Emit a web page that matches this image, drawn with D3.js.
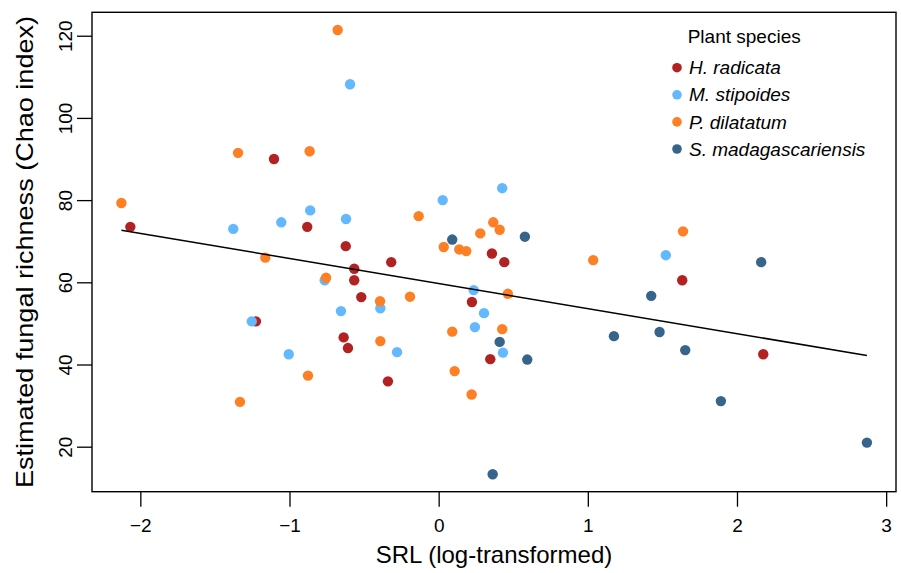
<!DOCTYPE html>
<html>
<head>
<meta charset="utf-8">
<script src="https://cdn.jsdelivr.net/npm/d3@7"></script>
<style>
  body { margin: 0; background: #fff; }
  svg text { font-family: "Liberation Sans", Arial, sans-serif; fill: #000; }
</style>
</head>
<body>
<div id="chart"></div>
<script>
// --------------------
// DATA
// --------------------
const species = ["H. radicata", "M. stipoides", "P. dilatatum", "S. madagascariensis"];
const speciesColors = ["#B22222", "#63B8FF", "#FF7F24", "#36648B"];

const radicataSRL  = [-2.067, -1.104, -0.881, -0.623, -0.566, -0.566, -0.519, -1.225, -0.637, -0.608, -0.318, -0.34, 0.357, 0.44, 0.223, 0.346, 1.633, 2.176];
const radicataChao = [73.5, 90.0, 73.5, 68.8, 63.3, 60.5, 56.4, 50.5, 46.6, 44.0, 64.9, 35.9, 67.0, 64.9, 55.2, 41.3, 60.5, 42.5];

const stipoidesSRL  = [-0.594, -1.377, -1.055, -0.861, -0.621, 0.027, 0.426, -0.764, -0.655, -1.253, -1.005, -0.391, -0.279, 0.235, 0.304, 0.243, 0.431, 1.523];
const stipoidesChao = [108.2, 73.0, 74.6, 77.5, 75.4, 80.0, 82.9, 60.5, 53.0, 50.5, 42.5, 53.7, 43.0, 58.1, 52.5, 49.1, 42.9, 66.6];

const dilatatumSRL  = [-0.677, -1.345, -0.865, -2.127, -0.134, 0.366, 0.409, 0.279, 0.034, 0.138, 0.185, -1.162, -0.755, -0.393, -0.192, 0.464, 1.036, 1.638, 0.091, 0.426, -0.391, -0.876, -1.332, 0.107, 0.221];
const dilatatumChao = [121.4, 91.5, 91.9, 79.3, 76.1, 74.6, 72.8, 71.9, 68.6, 68.0, 67.6, 66.0, 61.1, 55.4, 56.5, 57.2, 65.4, 72.4, 48.0, 48.6, 45.7, 37.3, 30.9, 38.4, 32.7];

const madagSRL  = [0.091, 0.578, 0.409, 0.594, 0.362, 1.425, 1.175, 2.162, 1.481, 1.653, 1.892, 2.871];
const madagChao = [70.4, 71.1, 45.5, 41.2, 13.3, 56.7, 46.9, 64.9, 47.9, 43.5, 31.1, 21.0];

// linear fit shown in the figure
const fitIntercept = 59.7;
const fitSlope = -6.1;

const xTicks = [-2, -1, 0, 1, 2, 3];
const yTicks = [20, 40, 60, 80, 100, 120];

const xLabel = "SRL (log-transformed)";
const yLabel = "Estimated fungal richness (Chao index)";
const legendTitle = "Plant species";

// build point table
const seriesX = [radicataSRL, stipoidesSRL, dilatatumSRL, madagSRL];
const seriesY = [radicataChao, stipoidesChao, dilatatumChao, madagChao];
const points = [];
species.forEach((s, i) => {
  seriesX[i].forEach((v, j) => points.push({ sp: i, srl: v, chao: seriesY[i][j] }));
});


// --------------------
// CHART
// --------------------
const width = 901;
const height = 573;
const box = { left: 92, right: 896, top: 12.3, bottom: 491.7 };

const svg = d3.select("#chart")
  .append("svg")
  .attr("width", width)
  .attr("height", height);

const x = d3.scaleLinear()
  .domain([-2.324, 3.066])
  .range([box.left, box.right]);

const y = d3.scaleLinear()
  .domain([9.05, 125.7])
  .range([box.bottom, box.top]);

// points
svg.append("g")
  .selectAll("circle")
  .data(points)
  .join("circle")
  .attr("cx", d => x(d.srl))
  .attr("cy", d => y(d.chao))
  .attr("r", 5.2)
  .attr("fill", d => speciesColors[d.sp]);

// fitted line over the data range
const xr = d3.extent(points, d => d.srl);
svg.append("line")
  .attr("x1", x(xr[0]))
  .attr("y1", y(fitIntercept + fitSlope * xr[0]))
  .attr("x2", x(xr[1]))
  .attr("y2", y(fitIntercept + fitSlope * xr[1]))
  .attr("stroke", "#000")
  .attr("stroke-width", 1.5);

// box
svg.append("rect")
  .attr("x", box.left)
  .attr("y", box.top)
  .attr("width", box.right - box.left)
  .attr("height", box.bottom - box.top)
  .attr("fill", "none")
  .attr("stroke", "#000")
  .attr("stroke-width", 1.4);


// Axes
const xAxis = svg.append("g")
  .attr("transform", `translate(0,${box.bottom})`)
  .call(d3.axisBottom(x).tickValues(xTicks).tickSize(15).tickPadding(12)
    .tickFormat(d => d < 0 ? "\u2212" + Math.abs(d) : d));
xAxis.select(".domain").remove();
xAxis.selectAll("line").attr("stroke-width", 1.3);
xAxis.selectAll("text").style("font-size", "19px");

const yAxis = svg.append("g")
  .attr("transform", `translate(${box.left},0)`)
  .call(d3.axisLeft(y).tickValues(yTicks).tickSize(15));
yAxis.select(".domain").remove();
yAxis.selectAll("line").attr("stroke-width", 1.3);
yAxis.selectAll("text")
  .attr("transform", "rotate(-90)")
  .attr("x", 0)
  .attr("y", -20.3)
  .attr("dy", null)
  .attr("text-anchor", "middle")
  .style("font-size", "19px");

// axis titles
svg.append("text")
  .attr("x", (box.left + box.right) / 2)
  .attr("y", 563.3)
  .attr("text-anchor", "middle")
  .style("font-size", "24px")
  .text(xLabel);

svg.append("text")
  .attr("transform", `translate(33.3,${(box.top + box.bottom) / 2}) rotate(-90)`)
  .attr("text-anchor", "middle")
  .attr("textLength", 472)
  .attr("lengthAdjust", "spacingAndGlyphs")
  .style("font-size", "24px")
  .text(yLabel);


// --------------------
// LEGEND
// --------------------
const legend = svg.append("g");

legend.append("text")
  .attr("x", 687.7)
  .attr("y", 42.7)
  .style("font-size", "19px")
  .text(legendTitle);

const rows = legend.selectAll("g.row")
  .data(species)
  .join("g")
  .attr("class", "row")
  .attr("transform", (d, i) => `translate(0,${67.7 + i * 27.1})`);

rows.append("circle")
  .attr("cx", 677)
  .attr("cy", 0)
  .attr("r", 4.8)
  .attr("fill", (d, i) => speciesColors[i]);

rows.append("text")
  .attr("x", 689)
  .attr("y", 6.6)
  .style("font-size", "19px")
  .style("font-style", "italic")
  .text(d => d);
</script>
</body>
</html>
